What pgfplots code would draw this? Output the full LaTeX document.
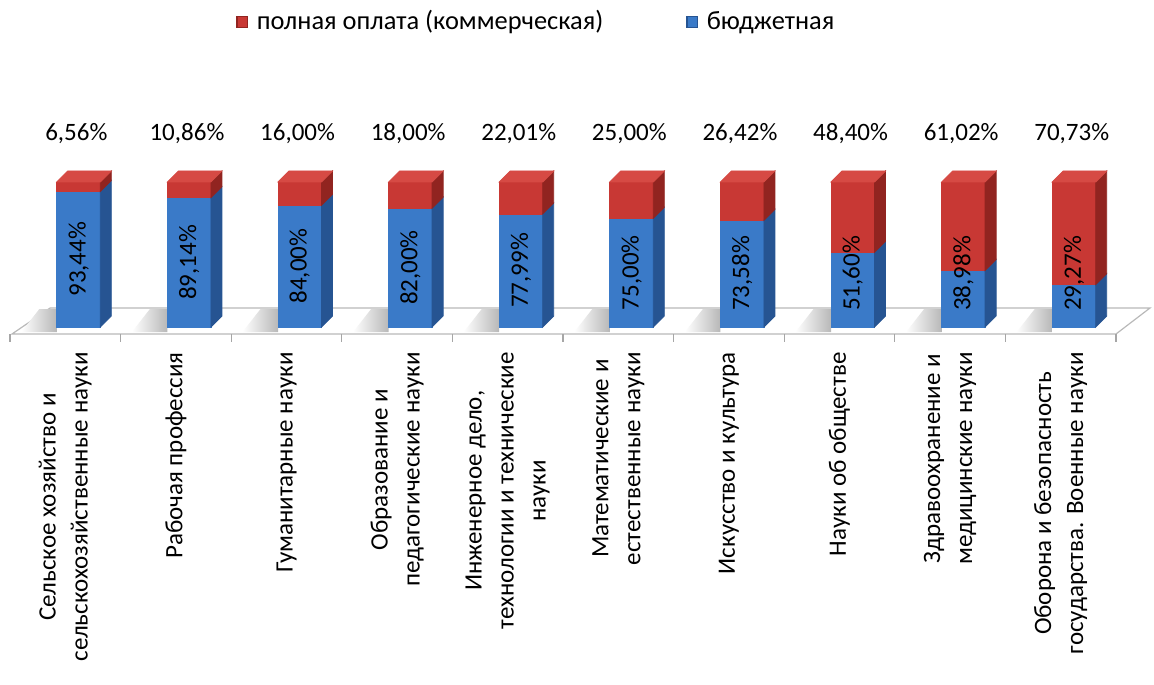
\documentclass[border=0pt]{standalone}
\usepackage{fontspec}
\setmainfont{Carlito}
\usepackage{pgfplots}
\usepackage{pgfplotstable}
\pgfplotsset{compat=1.18}
\definecolor{blueF}{RGB}{58,122,200}
\definecolor{blueS}{RGB}{38,84,146}
\definecolor{redF}{RGB}{200,56,52}
\definecolor{redT}{RGB}{214,74,68}
\definecolor{redS}{RGB}{145,36,32}

\pgfplotstableread{
idx blue red
0 93.44 6.56
1 89.14 10.86
2 84.00 16.00
3 82.00 18.00
4 77.99 22.01
5 75.00 25.00
6 73.58 26.42
7 51.60 48.40
8 38.98 61.02
9 29.27 70.73
}\datatable

\newcommand\yu{0.725191}
\pgfdeclareplotmark{bar3d}{%
  \pgfmathsetmacro\hB{\bval*\yu}%
  \pgfmathsetmacro\hT{(\bval+\rval)*\yu}%
  \shade[draw=none, left color=white, right color=black!28] (-22pt,-2.5pt) -- (-4.25pt,-2.5pt) -- (-4.25pt,9pt) -- (-13pt,9pt) -- cycle;
  \fill[blueF] (-4.25pt,0pt) rectangle (17.5pt,\hB pt);
  \fill[redF] (-4.25pt,\hB pt) rectangle (17.5pt,\hT pt);
  \fill[blueS] (17.5pt,0pt) -- (23pt,5.5pt) -- (23pt,\hB pt+5.5pt) -- (17.5pt,\hB pt) -- cycle;
  \fill[redS] (17.5pt,\hB pt) -- (23pt,\hB pt+5.5pt) -- (23pt,\hT pt+5.5pt) -- (17.5pt,\hT pt) -- cycle;
  \fill[redT] (-4.25pt,\hT pt) -- (17.5pt,\hT pt) -- (23pt,\hT pt+5.5pt) -- (1.25pt,\hT pt+5.5pt) -- cycle;
}

\begin{document}
\fontsize{12.5}{16}\selectfont
\begin{tikzpicture}[font=\fontsize{12.5}{16}\selectfont]
\begin{axis}[
  name=ax, scale only axis, width=553pt, height=76pt,
  xmin=-0.5, xmax=9.5, ymin=-4.8, ymax=100,
  clip=false, set layers,
  axis line style={draw=none},
  ytick=\empty,
  xtick={0,...,9},
  xtick pos=left, tick align=outside,
  major tick length=0pt,
  xticklabels={{Сельское хозяйство и\\сельскохозяйственные науки},{Рабочая профессия},{Гуманитарные науки},{Образование и\\педагогические науки},{Инженерное дело,\\технологии и технические\\науки},{Математические и\\естественные науки},{Искусство и культура},{Науки об обществе},{Здравоохранение и\\медицинские науки},{Оборона и безопасность\\государства. Военные науки}},
  xticklabel style={rotate=90, anchor=east, align=center, inner sep=0pt, font=\fontsize{12.5}{16}\selectfont},
  xticklabel shift=9pt,
  extra x ticks={-0.5,0.5,1.5,2.5,3.5,4.5,5.5,6.5,7.5,8.5,9.5},
  extra x tick labels={},
  extra x tick style={major tick length=4pt, tick align=outside, tick style={draw=gray!70, line width=0.6pt}},
  legend style={at={(rel axis cs:0.2043,2.0526)}, anchor=west, draw=none, fill=none, inner sep=0pt,
    legend columns=2, /tikz/every even column/.append style={column sep=39.5pt},
    font=\fontsize{13.2}{16}\selectfont},
  legend cell align=left,
]
\begin{pgfonlayer}{axis background}
  \draw[gray!55, line width=0.6pt, fill=white] (axis cs:-0.482,-4.8) -- (axis cs:9.5,-4.8) -- (axis cs:9.807,13.1) -- (axis cs:-0.138,13.1) -- cycle;
\end{pgfonlayer}

\addlegendimage{legend image code/.code={\fill[redS] (0pt,-2.75pt) rectangle (5.5pt,2.75pt); \fill[redF] (0.6pt,-2.15pt) rectangle (4.9pt,2.15pt); \path[draw=none] (0pt,0pt) -- (8pt,0pt);}}
\addlegendentry{полная оплата (коммерческая)}
\addlegendimage{legend image code/.code={\fill[blueS] (0pt,-2.75pt) rectangle (5.5pt,2.75pt); \fill[blueF] (0.6pt,-2.15pt) rectangle (4.9pt,2.15pt); \path[draw=none] (0pt,0pt) -- (8pt,0pt);}}
\addlegendentry{бюджетная}

\addplot[forget plot, scatter, only marks, mark=bar3d,
  point meta=\thisrow{blue},
  scatter/use mapped color={draw=none, fill=none},
  visualization depends on={\thisrow{blue} \as \bval},
  visualization depends on={\thisrow{red} \as \rval}]
  table[x=idx, y expr=0] \datatable;

\addplot[forget plot, draw=none, mark=none,
  point meta=\thisrow{blue},
  nodes near coords={\pgfmathprintnumber[fixed,fixed zerofill,precision=2,use comma,assume math mode=true]{\pgfplotspointmeta}\%},
  every node near coord/.style={rotate=90, anchor=center, inner sep=0pt, font=\fontsize{12.5}{16}\selectfont}]
  table[x expr=\thisrow{idx}+0.12, y expr={max(\thisrow{blue}/2,37)}] \datatable;

\addplot[forget plot, draw=none, mark=none,
  point meta=\thisrow{red},
  nodes near coords={\pgfmathprintnumber[fixed,fixed zerofill,precision=2,use comma,assume math mode=true]{\pgfplotspointmeta}\%},
  every node near coord/.style={anchor=center, yshift=24pt, inner sep=0pt, font=\fontsize{12.5}{16}\selectfont}]
  table[x expr=\thisrow{idx}+0.1, y expr=\thisrow{blue}+\thisrow{red}] \datatable;
\end{axis}
\pgfresetboundingbox
\path (ax.south west) ++(-5pt,-175pt) rectangle ++(577pt,342pt);
\end{tikzpicture}
\end{document}
